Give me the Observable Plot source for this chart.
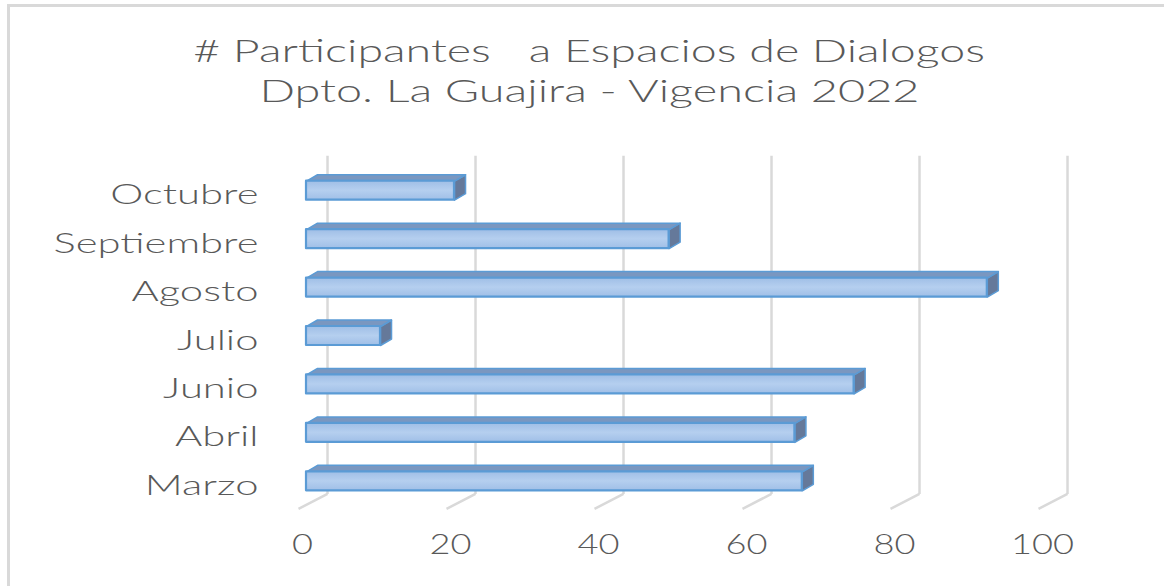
<!DOCTYPE html>
<html>
<head>
<meta charset="utf-8">
<script src="https://cdn.jsdelivr.net/npm/d3@7"></script>
<script src="https://cdn.jsdelivr.net/npm/@observablehq/plot@0.6"></script>
<style>
  body { margin: 0; background: #fff; width: 1164px; height: 586px; overflow: hidden; position: relative; font-family: Lato, "Open Sans", sans-serif; }
  #frame { position: absolute; left: 7px; top: 4px; width: 1300px; height: 700px; border-left: 3px solid #d9d9d9; border-top: 3px solid #d9d9d9; }
  #title { position: absolute; left: 0; width: 1178px; top: 30px; text-align: center; color: #595959; font-size: 32px; font-weight: 300; line-height: 40px; white-space: pre; }
  #title span { display: inline-block; }
  #chart { position: absolute; left: 0; top: 130px; }
  #chart text { font-weight: 300; }
</style>
</head>
<body>
<div id="frame"></div>
<div id="title"><div><span id="t1"># Participantes   a Espacios de Dialogos</span></div><div><span id="t2">Dpto. La Guajira - Vigencia 2022</span></div></div>
<div id="chart"></div>
<script>
// ---- data ----
const months = ["Octubre", "Septiembre", "Agosto", "Julio", "Junio", "Abril", "Marzo"];
const participants = [20, 49, 92, 10, 74, 66, 67];
const xTicks = [0, 20, 40, 60, 80, 100];

// ---- 3D geometry (in data units) ----
const H = 0.196;   // half thickness of bar front face (rows)
const DX = 1.49;   // bar depth, horizontal (value units)
const DY = 0.134;  // bar depth, vertical (rows)
const BACK_X = 2.84, FRONT_X = -1.08;   // gridline back / front plane offsets
const GRID_TOP = -0.723, GRID_BOTTOM = 6.26, FLOOR_FRONT = 6.57;
const TICK_Y = 7.33;

const rows = months.map((m, i) => ({month: m, value: participants[i], i}));
const topFaces = rows.flatMap(d => [
  {id: d.month, x: 0, y: d.i - H},
  {id: d.month, x: d.value, y: d.i - H},
  {id: d.month, x: d.value + DX, y: d.i - H - DY},
  {id: d.month, x: DX, y: d.i - H - DY}
]);
const sideFaces = rows.flatMap(d => [
  {id: d.month, x: d.value, y: d.i - H},
  {id: d.month, x: d.value + DX, y: d.i - H - DY},
  {id: d.month, x: d.value + DX, y: d.i + H - DY},
  {id: d.month, x: d.value, y: d.i + H}
]);

const plot = Plot.plot({
  width: 1164,
  height: 456,
  marginLeft: 306,
  marginRight: 118,
  marginTop: 36,
  marginBottom: 81,
  style: {fontFamily: "Lato, 'Open Sans', sans-serif", color: "#595959", background: "transparent", overflow: "visible"},
  x: {domain: [0, 100], axis: null},
  y: {domain: [-0.5, 6.5], reverse: true, axis: null},
  marks: [
    // back wall gridlines
    Plot.link(xTicks, {x1: d => d + BACK_X, x2: d => d + BACK_X, y1: () => GRID_TOP, y2: () => GRID_BOTTOM, stroke: "#d9d9d9", strokeWidth: 2.5}),
    // floor lines
    Plot.link(xTicks, {x1: d => d + BACK_X, x2: d => d + FRONT_X, y1: () => GRID_BOTTOM, y2: () => FLOOR_FRONT, stroke: "#d9d9d9", strokeWidth: 2.5}),
    // bar side faces
    Plot.line(sideFaces, {x: "x", y: "y", z: "id", curve: "linear-closed", fill: "#65799a", stroke: "#5b9bd5", strokeWidth: 1.5, strokeLinejoin: "round"}),
    // bar top faces
    Plot.line(topFaces, {x: "x", y: "y", z: "id", curve: "linear-closed", fill: "#7a97c0", stroke: "#5b9bd5", strokeWidth: 1.5, strokeLinejoin: "round"}),
    // bar front faces
    Plot.rect(rows, {x1: () => 0, x2: "value", y1: d => d.i - H, y2: d => d.i + H, fill: "url(#barGrad)", stroke: "#5b9bd5", strokeWidth: 2.2, strokeLinejoin: "round"}),
    // category labels
    Plot.text(rows, {x: () => 0, y: "i", text: "month", textAnchor: "end", dx: -48, dy: 5, fill: "#595959", fontSize: 27, className: "ylab"}),
    // value tick labels
    Plot.text(xTicks, {x: d => d, y: () => TICK_Y, text: d => String(d), dx: -4, fill: "#595959", fontSize: 27, className: "xlab"})
  ]
});

document.getElementById("chart").appendChild(plot);

// gradient for bar fronts
const NS = "http://www.w3.org/2000/svg";
const defs = document.createElementNS(NS, "defs");
const grad = document.createElementNS(NS, "linearGradient");
grad.setAttribute("id", "barGrad");
grad.setAttribute("x1", "0"); grad.setAttribute("y1", "0");
grad.setAttribute("x2", "0"); grad.setAttribute("y2", "1");
[["0%", "#9fbee6"], ["50%", "#b5cfef"], ["100%", "#a0bfe7"]].forEach(([o, c]) => {
  const s = document.createElementNS(NS, "stop");
  s.setAttribute("offset", o); s.setAttribute("stop-color", c);
  grad.appendChild(s);
});
defs.appendChild(grad);
plot.insertBefore(defs, plot.firstChild);

// horizontal stretch of the label text (the reference text is widened)
function stretch(selector, refText, target) {
  const texts = Array.from(plot.querySelectorAll(selector + " text"));
  const ref = texts.find(t => t.textContent === refText);
  if (!ref) return;
  const k = target / ref.getComputedTextLength();
  texts.forEach(t => {
    t.setAttribute("textLength", (t.getComputedTextLength() * k).toFixed(1));
    t.setAttribute("lengthAdjust", "spacingAndGlyphs");
  });
}
stretch(".ylab", "Septiembre", 205);
stretch(".xlab", "100", 63);

// title stretch
[["t1", 792], ["t2", 660]].forEach(([id, w]) => {
  const el = document.getElementById(id);
  const k = w / el.getBoundingClientRect().width;
  el.style.transform = `scaleX(${k.toFixed(3)})`;
});
</script>
</body>
</html>
